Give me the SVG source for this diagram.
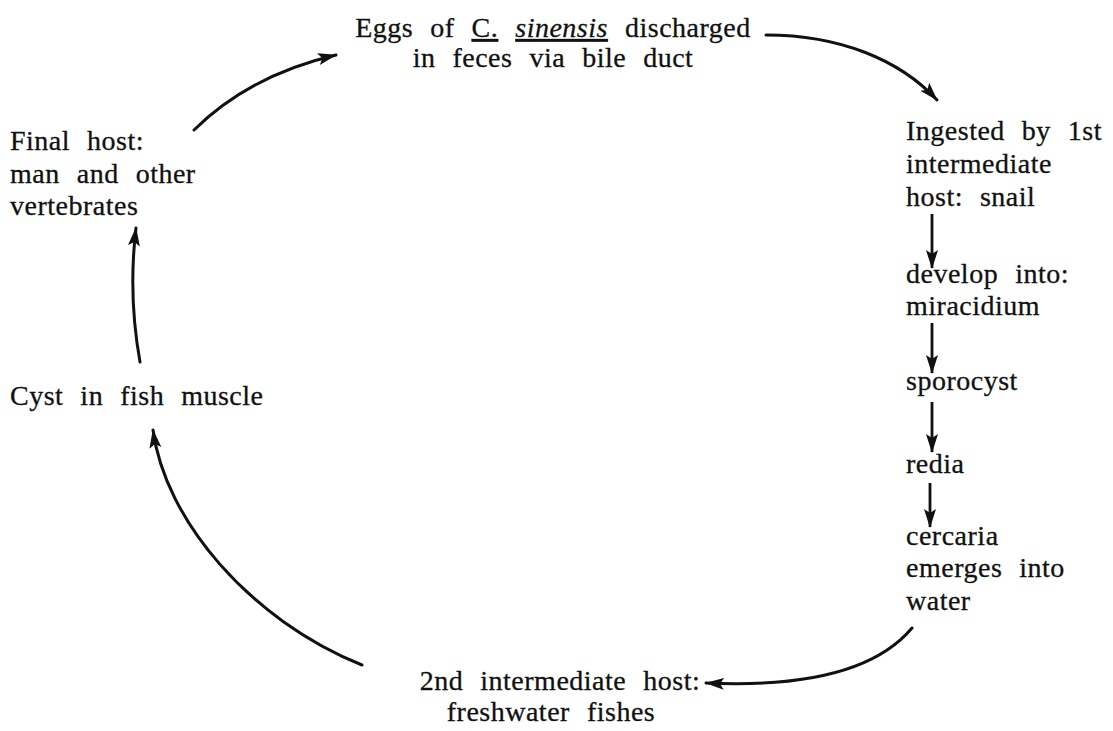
<svg xmlns="http://www.w3.org/2000/svg" width="1113" height="731" viewBox="0 0 1113 731">
<style>
text{font-family:"Liberation Serif","Times New Roman",serif;font-size:28px;fill:#111;stroke:#111;stroke-width:0.3px;word-spacing:9.5px;letter-spacing:0.5px}
.c{stroke:#111;stroke-width:3;fill:none;stroke-linecap:round}
.v{stroke:#111;stroke-width:2.8;fill:none}
.u{text-decoration:underline}
</style>
<defs>
<marker id="ah" markerUnits="userSpaceOnUse" markerWidth="22" markerHeight="14" refX="18" refY="6" orient="auto">
<path d="M0,0 L19,6 L0,12 L4,6 Z" fill="#111"/>
</marker>
</defs>
<rect width="1113" height="731" fill="#fff"/>
<g id="connectors">
<path class="c" d="M194,130 Q250,75 336,55" marker-end="url(#ah)"/>
<path class="c" d="M766,35 C840,35 900,60 937,100" marker-end="url(#ah)"/>
<path class="v" d="M932,214 L932,268" marker-end="url(#ah)"/>
<path class="v" d="M932,323 L932,373" marker-end="url(#ah)"/>
<path class="v" d="M932,402 L932,452" marker-end="url(#ah)"/>
<path class="v" d="M930,483 L930,527" marker-end="url(#ah)"/>
<path class="c" d="M912,628 Q860,690 706,683" marker-end="url(#ah)"/>
<path class="c" d="M362,665 C250,620 165,520 153,430" marker-end="url(#ah)"/>
<path class="c" d="M140,362 Q128,295 136,228" marker-end="url(#ah)"/>
</g>
<g id="eggs">
<text x="553" y="37" text-anchor="middle">Eggs of <tspan class="u">C.</tspan> <tspan class="u" font-style="italic">sinensis</tspan> discharged</text>
<text x="553" y="67" text-anchor="middle">in feces via bile duct</text>
</g>
<g id="snail">
<text x="906" y="140">Ingested by 1st</text>
<text x="906" y="173">intermediate</text>
<text x="906" y="206">host: snail</text>
</g>
<g id="miracidium">
<text x="906" y="283">develop into:</text>
<text x="906" y="315">miracidium</text>
</g>
<g id="sporocyst"><text x="906" y="390">sporocyst</text></g>
<g id="redia"><text x="906" y="473">redia</text></g>
<g id="cercaria">
<text x="906" y="545">cercaria</text>
<text x="906" y="577">emerges into</text>
<text x="906" y="610">water</text>
</g>
<g id="fishes">
<text x="560" y="690" text-anchor="middle">2nd intermediate host:</text>
<text x="551" y="721" text-anchor="middle">freshwater fishes</text>
</g>
<g id="cyst"><text x="10" y="405">Cyst in fish muscle</text></g>
<g id="finalhost">
<text x="10" y="150">Final host:</text>
<text x="10" y="183">man and other</text>
<text x="10" y="215">vertebrates</text>
</g>
</svg>
